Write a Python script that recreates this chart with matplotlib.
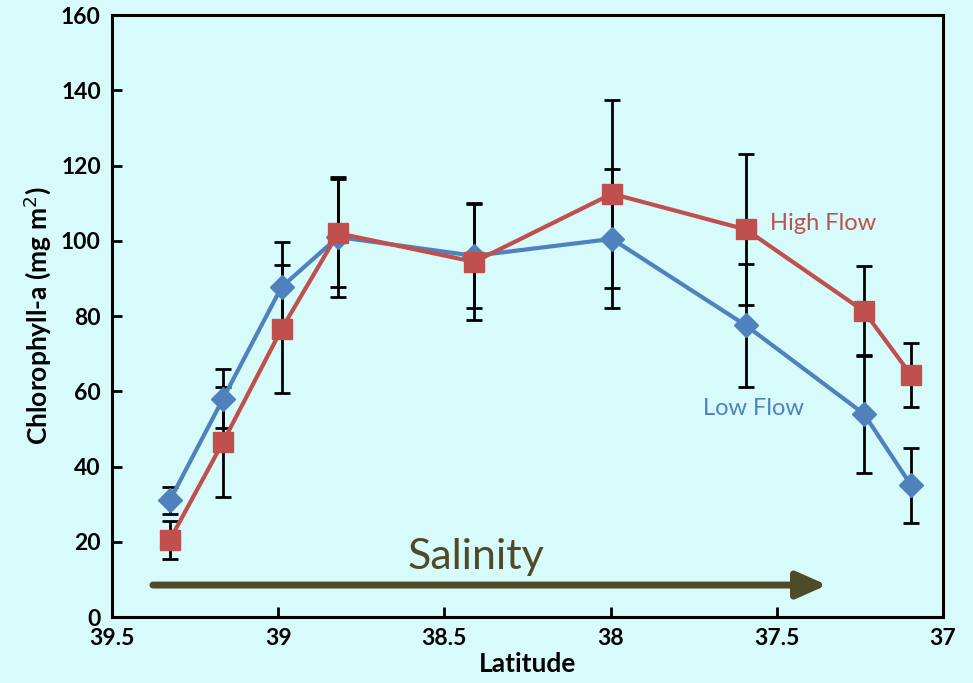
import matplotlib
matplotlib.use('Agg')
import matplotlib.pyplot as plt

# Sampling stations by latitude (degrees N)
latitude = [39.326, 39.166, 38.99, 38.82, 38.41, 37.996, 37.593, 37.238, 37.096]

# Chlorophyll-a means and standard errors
low_flow = [31.0, 58.0, 87.7, 101.0, 96.0, 100.5, 77.5, 54.0, 35.0]
low_err = [3.6, 7.8, 12.0, 16.0, 14.0, 18.5, 16.3, 15.7, 10.0]
high_flow = [20.5, 46.5, 76.5, 102.0, 94.4, 112.5, 103.0, 81.3, 64.3]
high_err = [5.0, 14.6, 17.0, 14.3, 15.4, 25.0, 20.0, 12.0, 8.4]

y_ticks = [0, 20, 40, 60, 80, 100, 120, 140, 160]
x_ticks = [39.5, 39, 38.5, 38, 37.5, 37]

bg = '#d7fbfb'
red = '#c0504d'
blue = '#4f81bd'
olive = '#4f4a28'

plt.rcParams['font.family'] = ['Lato', 'DejaVu Sans']

fig = plt.figure(figsize=(9.73, 6.83), dpi=100, facecolor=bg)
ax = fig.add_axes([0.1151, 0.0966, 0.8541, 0.8814])
ax.set_facecolor(bg)

# Error bars first so the markers sit on top
ax.errorbar(latitude, low_flow, yerr=low_err, fmt='none', ecolor='black',
            elinewidth=2, capsize=6, capthick=2, zorder=2)
ax.errorbar(latitude, high_flow, yerr=high_err, fmt='none', ecolor='black',
            elinewidth=2, capsize=6, capthick=2, zorder=2)
ax.plot(latitude, low_flow, color=blue, lw=3, marker='D', ms=12, zorder=3)
ax.plot(latitude, high_flow, color=red, lw=3, marker='s', ms=14, zorder=4)

ax.text(37.52, 104.5, 'High Flow', color=red, fontsize=17, va='center', ha='left')
ax.text(37.722, 55.3, 'Low Flow', color=blue, fontsize=17, va='center', ha='left')

# Salinity gradient arrow
ax.annotate('', xy=(37.349, 8.5), xytext=(39.377, 8.5),
            arrowprops=dict(arrowstyle='-|>,head_length=1.8,head_width=0.8',
                            color=olive, lw=5, shrinkA=0, shrinkB=0))
ax.text(38.405, 16, 'Salinity', color=olive, fontsize=31, ha='center', va='center')

ax.set_xlim(39.5, 37)
ax.set_ylim(0, 160)
ax.set_xticks(x_ticks)
ax.set_xticklabels(['39.5', '39', '38.5', '38', '37.5', '37'])
ax.set_yticks(y_ticks)

for s in ax.spines.values():
    s.set_linewidth(2.2)
ax.tick_params(direction='in', length=7, width=2, labelsize=16.5, pad=8)
for lbl in ax.get_xticklabels() + ax.get_yticklabels():
    lbl.set_fontweight('bold')

ax.set_ylabel('Chlorophyll-a (mg m$^2$)', fontsize=19, fontweight='bold', labelpad=6)
ax.set_xlabel('Latitude', fontsize=19, fontweight='bold', labelpad=2)

fig.savefig('out.png', dpi=100, facecolor=bg)
